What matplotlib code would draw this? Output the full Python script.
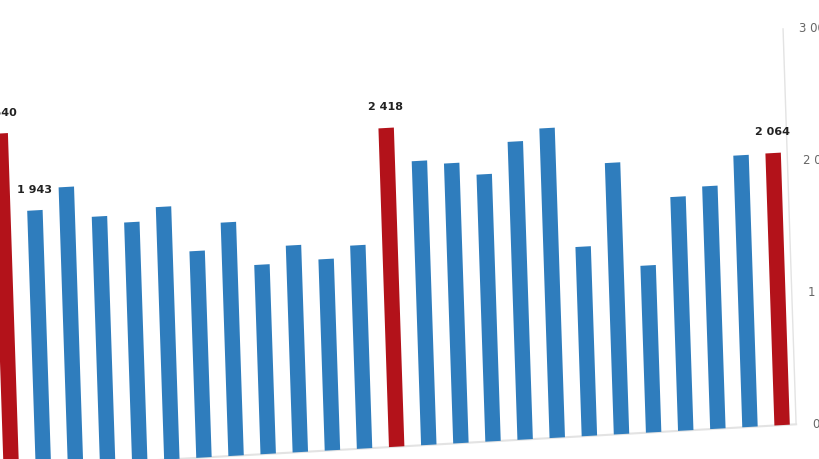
import numpy as np
import matplotlib
matplotlib.use('Agg')
from matplotlib import pyplot as plt
from matplotlib.transforms import Affine2D, offset_copy

# values in series order (first one is drawn at the right, axis is reversed)
values = [2064, 2061, 1841, 1774, 1266, 2059, 1436, 2349, 2261, 2026,
          2124, 2155, 2418, 1542, 1451, 1569, 1436, 1771, 1567, 1916,
          1813, 1870, 2107, 1943, 2540]
highlight = [0, 12, 24]
labelled = [0, 12, 23, 24]
yticks = [0, 1000, 2000, 3000]
yticklabels = ['0', '1 000', '2 000', '3 000']

blue = '#2f7dbd'
red = '#b3121a'

fig = plt.figure(figsize=(8.2, 4.59), dpi=100)
ax = fig.add_axes([0, 34.7/459, 790/820, 395.4/459])
ax.set_xlim(24.16, -0.436)
ax.set_ylim(0, 3000)

# the picture is seen at an angle: shear everything a little
skew = (Affine2D().translate(-790, -159)
        .skew(np.arctan(-0.033), np.arctan(0.056))
        .translate(792, 159))
tr = ax.transData + skew

idx = np.arange(len(values))
colors = [red if i in highlight else blue for i in idx]
bars = ax.bar(idx, values, width=0.48, color=colors, transform=tr, zorder=3)
for b in bars:
    b.set_clip_on(False)

for i in labelled:
    v = values[i]
    lab = '{:,}'.format(v).replace(',', ' ')
    ax.text(i, v + 120, lab, transform=tr, ha='center', va='bottom',
            fontsize=8, fontweight='bold', color='#222222', clip_on=False)

# baseline and right axis line
ax.plot([-0.436, 24.6], [0, 0], color='#e3e3e3', lw=1.5, transform=tr,
        clip_on=False, zorder=2)
ax.plot([-0.436, -0.436], [0, 3000], color='#e3e3e3', lw=1, transform=tr,
        clip_on=False, zorder=2)

# y tick labels follow the slanted axis
lab_tr = offset_copy(tr, fig=fig, x=16, y=0, units='dots')
for t, s in zip(yticks, yticklabels):
    ax.text(-0.436, t, s, transform=lab_tr, ha='left', va='center',
            fontsize=8.5, color='#666666', clip_on=False)

ax.set_xticks([])
ax.set_yticks([])
for s in ax.spines.values():
    s.set_visible(False)

fig.savefig('out.png', dpi=100)
